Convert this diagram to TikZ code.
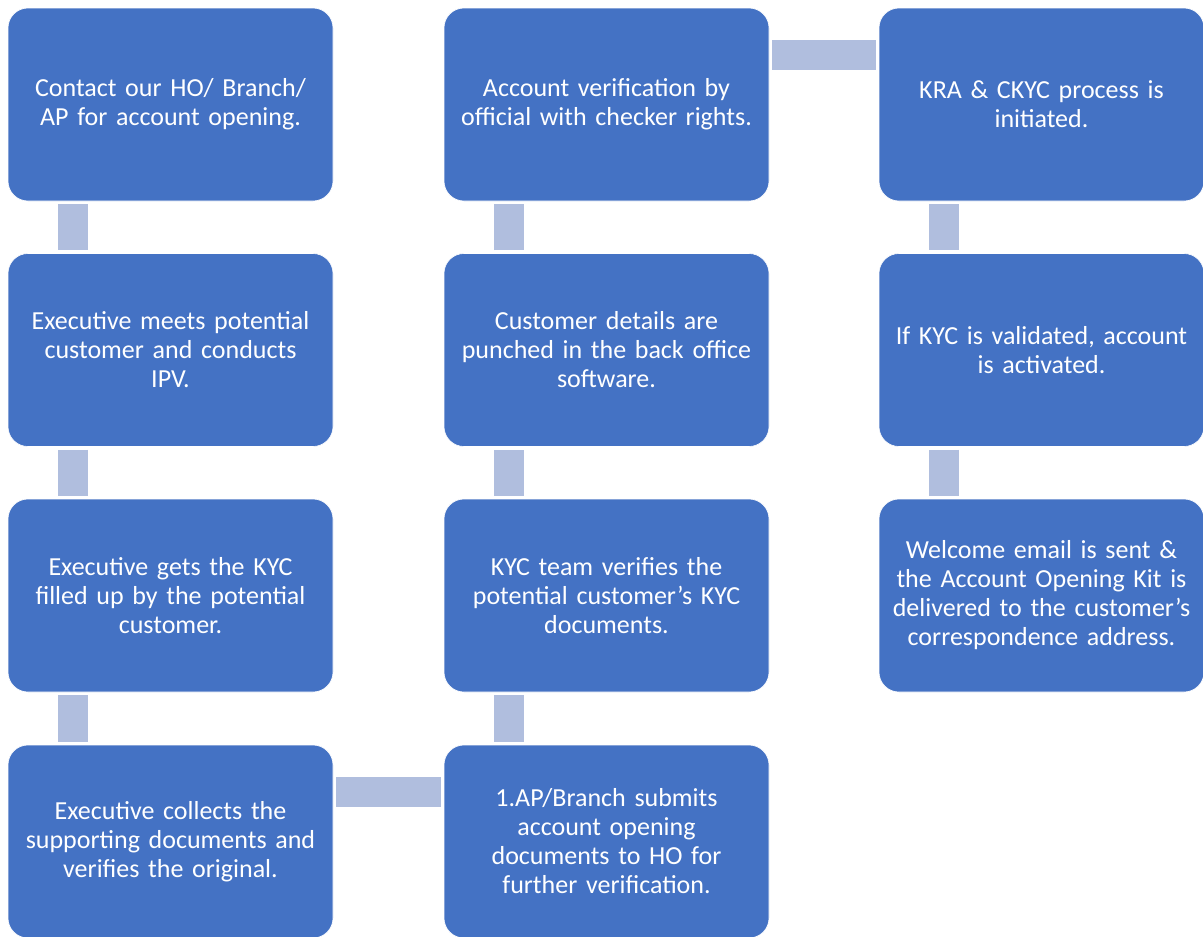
\documentclass[tikz,border=0pt]{standalone}
\usepackage{fontspec}
\setmainfont{Carlito}
\usepackage{tikz}
\usetikzlibrary{positioning}
\definecolor{boxblue}{RGB}{68,114,196}
\definecolor{linkblue}{RGB}{176,190,222}
\tikzset{
  stepbox/.style={rounded corners=20pt, fill=boxblue, draw=white, line width=0.6pt,
    minimum width=325pt, minimum height=193pt, text width=318pt, align=center,
    text=white, inner sep=0pt, font=\fontsize{26}{29}\selectfont},
  link/.style={draw=linkblue, line width=30pt, line cap=butt, shorten >=3pt, shorten <=3pt}
}
\begin{document}
\begin{tikzpicture}[x=1pt,y=-1pt]
\useasboundingbox[fill=white] (0,0) rectangle (1203,937);
% first column
\node[stepbox] (contact) at (170.5,104.5) {Contact our HO/ Branch/\\ AP for account opening.};
\node[stepbox] (meet) at (170.5,350) {Executive meets potential\\ customer and conducts\\ IPV.};
\node[stepbox] (kycform) at (170.5,595.5) {Executive gets the KYC\\ filled up by the potential\\ customer.};
\node[stepbox] (collect) at (170.5,841.5) {Executive collects the\\ supporting documents and\\ verifies the original.};
% second column
\node[stepbox] (submit) at (606.5,841.5) {1.AP/Branch submits\\ account opening\\ documents to HO for\\ further verification.};
\node[stepbox] (kycteam) at (606.5,595.5) {KYC team verifies the\\ potential customer’s KYC\\ documents.};
\node[stepbox] (punch) at (606.5,350) {Customer details are\\ punched in the back office\\ software.};
\node[stepbox] (checker) at (606.5,104.5) {Account verification by\\ official with checker rights.};
% third column
\node[stepbox] (kra) at (1041.5,104.5) {KRA \& CKYC process is\\ initiated.};
\node[stepbox] (activate) at (1041.5,350) {If KYC is validated, account\\ is activated.};
\node[stepbox] (welcome) at (1041.5,595.5) {Welcome email is sent \&\\ the Account Opening Kit is\\ delivered to the customer’s\\ correspondence address.};
% links
\draw[link] ([xshift=65pt]contact.south west) -- ([xshift=65pt]meet.north west);
\draw[link] ([xshift=65pt]meet.south west) -- ([xshift=65pt]kycform.north west);
\draw[link] ([xshift=65pt]kycform.south west) -- ([xshift=65pt]collect.north west);
\draw[link] ([yshift=-47pt]collect.north east) -- ([yshift=-47pt]submit.north west);
\draw[link] ([xshift=65pt]submit.north west) -- ([xshift=65pt]kycteam.south west);
\draw[link] ([xshift=65pt]kycteam.north west) -- ([xshift=65pt]punch.south west);
\draw[link] ([xshift=65pt]punch.north west) -- ([xshift=65pt]checker.south west);
\draw[link] ([yshift=-47pt]checker.north east) -- ([yshift=-47pt]kra.north west);
\draw[link] ([xshift=65pt]kra.south west) -- ([xshift=65pt]activate.north west);
\draw[link] ([xshift=65pt]activate.south west) -- ([xshift=65pt]welcome.north west);
\end{tikzpicture}
\end{document}
